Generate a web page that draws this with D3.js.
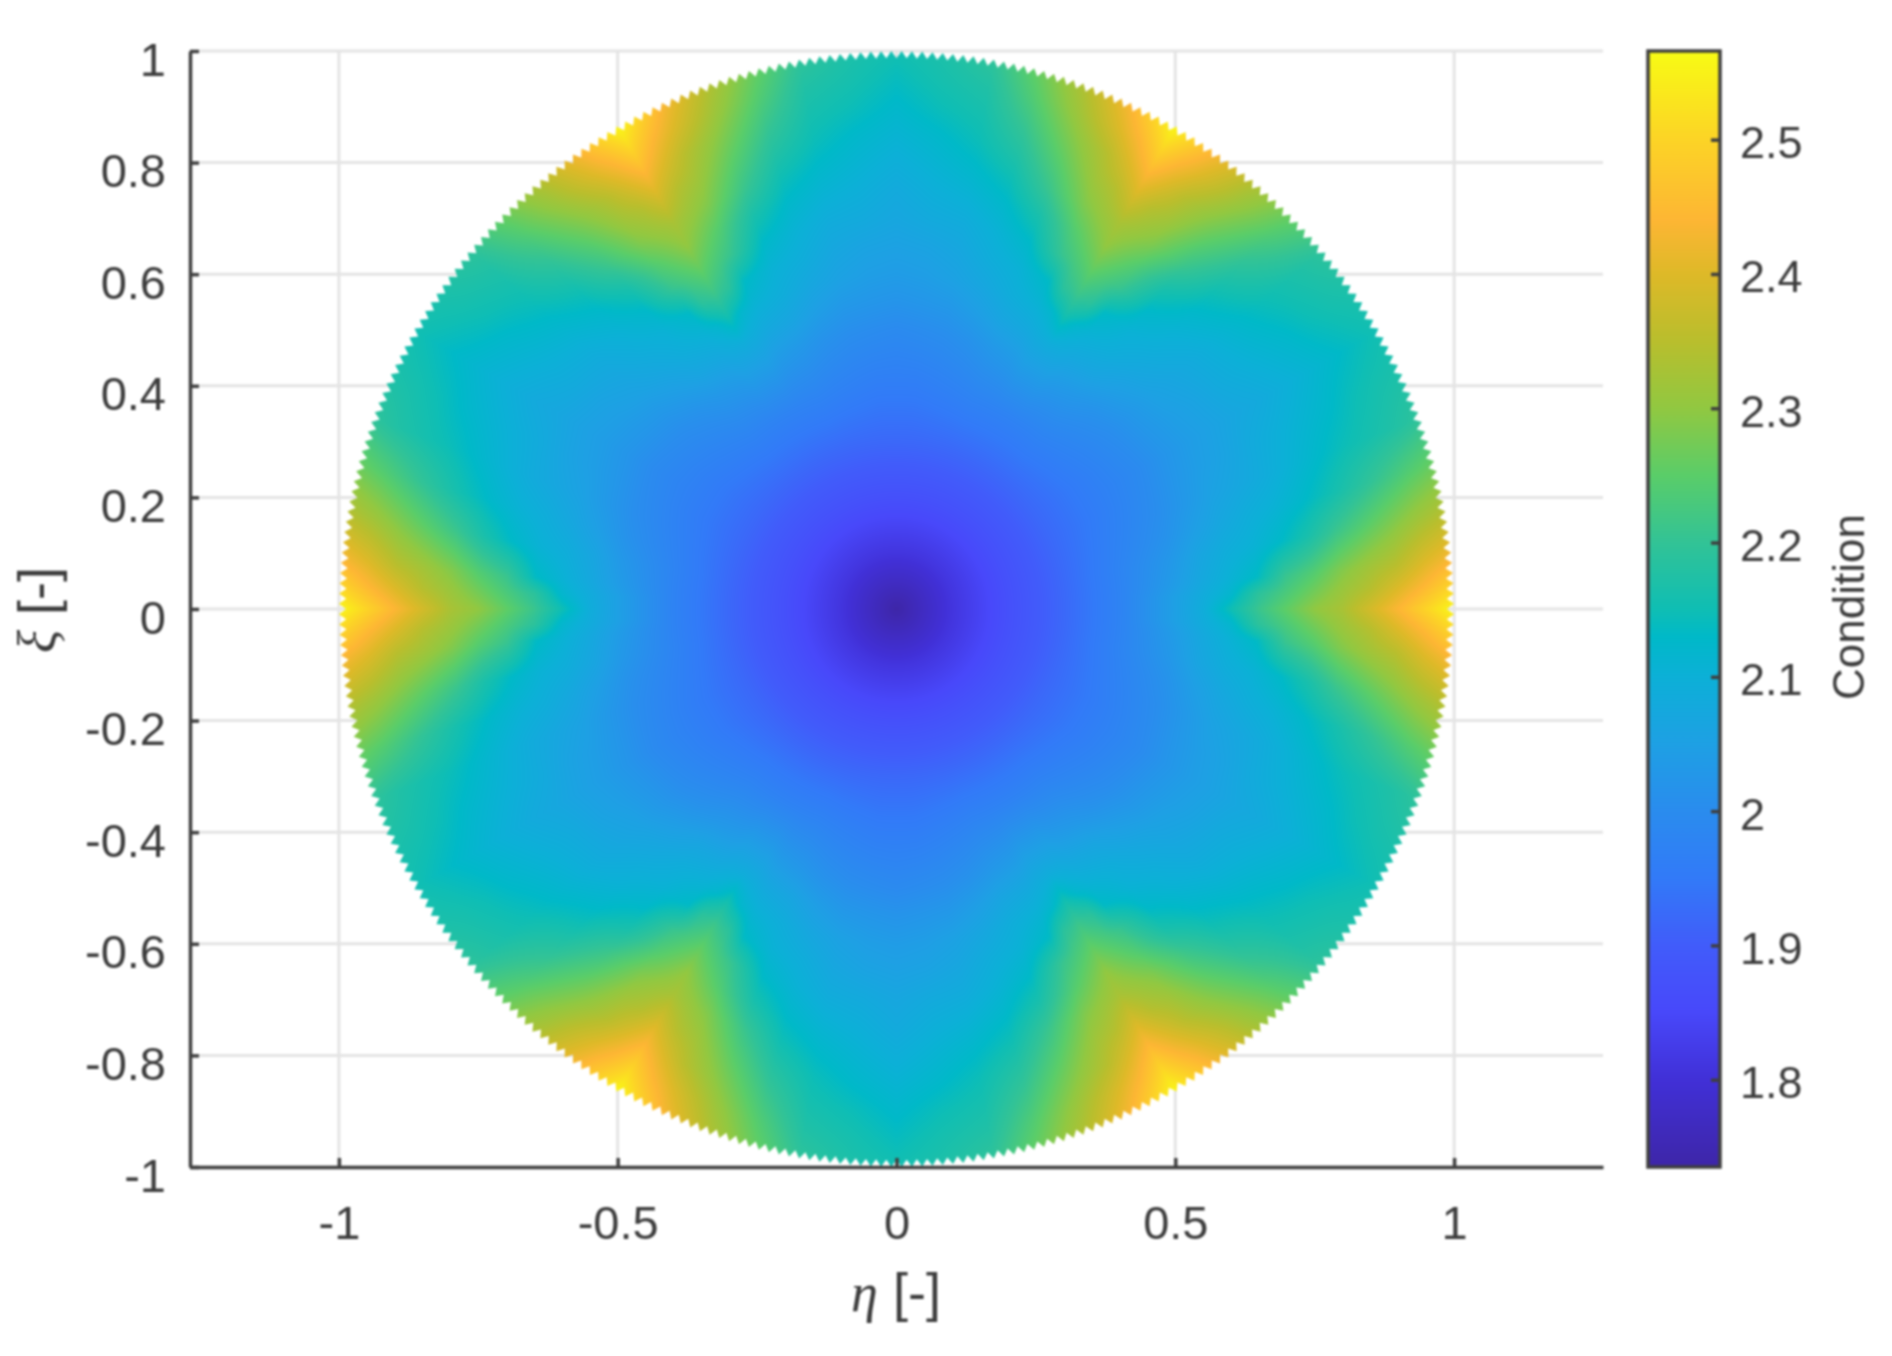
<!DOCTYPE html>
<html>
<head>
  <meta charset="utf-8">
  <script src="https://d3js.org/d3.v7.min.js"></script>
  <style>
    html, body { margin: 0; background: #fff; }
    svg { display: block; filter: blur(0.8px); }
    text { font-family: "Liberation Sans", Arial, sans-serif; fill: #3c3c3c; }
    .grid line { stroke: #e4e4e4; stroke-width: 3px; }
    .axis path, .axis line { stroke: #3f3f3f; stroke-width: 3.5px; }
    .axis text { font-size: 47px; }
    .cbar text { font-size: 45px; }
    .greek { font-family: "Liberation Serif", serif; font-style: italic; }
  </style>
</head>
<body>
  <svg id="chart" width="1892" height="1356"></svg>
  <script>
    // tick labels
    var xTicks = [-1, -0.5, 0, 0.5, 1];
    var yTicks = [-1, -0.8, -0.6, -0.4, -0.2, 0, 0.2, 0.4, 0.6, 0.8, 1];
    var cTicks = [1.8, 1.9, 2, 2.1, 2.2, 2.3, 2.4, 2.5];

    // condition number. The map repeats every 60 deg and
    // mirrors, so one 30 deg wedge is enough: angle from a hot corner, then radius
    var radii = [0, 0.1, 0.2, 0.3, 0.4, 0.5, 0.55, 0.6, 0.65, 0.7, 0.75, 0.8, 0.85, 0.9, 0.95, 1];
    var wedgeAngles = [0, 2.5, 5, 10, 15, 20, 25, 30];
    var cond00 = [1.735, 1.81, 1.87, 1.92, 1.975, 2.05, 2.09, 2.15, 2.21, 2.255, 2.30, 2.33, 2.385, 2.44, 2.50, 2.56];
    var cond02 = [1.735, 1.81, 1.87, 1.92, 1.975, 2.05, 2.085, 2.12, 2.19, 2.23, 2.27, 2.31, 2.345, 2.395, 2.445, 2.50];
    var cond05 = [1.735, 1.81, 1.87, 1.92, 1.975, 2.04, 2.075, 2.105, 2.135, 2.205, 2.24, 2.285, 2.32, 2.35, 2.40, 2.44];
    var cond10 = [1.735, 1.81, 1.87, 1.92, 1.975, 2.03, 2.065, 2.09, 2.105, 2.13, 2.165, 2.21, 2.245, 2.28, 2.315, 2.345];
    var cond15 = [1.735, 1.81, 1.87, 1.92, 1.97, 2.015, 2.045, 2.07, 2.09, 2.105, 2.125, 2.15, 2.18, 2.21, 2.24, 2.265];
    var cond20 = [1.735, 1.81, 1.87, 1.92, 1.965, 2.005, 2.03, 2.055, 2.07, 2.085, 2.105, 2.125, 2.145, 2.16, 2.175, 2.195];
    var cond25 = [1.735, 1.81, 1.87, 1.92, 1.96, 2.00, 2.025, 2.045, 2.06, 2.08, 2.095, 2.11, 2.125, 2.145, 2.16, 2.17];
    var cond30 = [1.735, 1.81, 1.87, 1.92, 1.96, 1.995, 2.02, 2.04, 2.055, 2.07, 2.08, 2.095, 2.11, 2.125, 2.14, 2.155];
    var condRows = [cond00, cond02, cond05, cond10, cond15, cond20, cond25, cond30];

    // colour bar as seen in the picture
    var cStops = [1.735, 1.8, 1.85, 1.9, 1.95, 2, 2.05, 2.1, 2.13, 2.15, 2.2, 2.25, 2.3, 2.35, 2.4, 2.44, 2.5, 2.566];
    var cColors = ["#3e26a8", "#4130d7", "#4848fa", "#415cfa", "#327af8", "#2a8cee", "#1ea0e4", "#0cb0d7", "#00b9c8",
      "#0fbeb4", "#32c396", "#5acd69", "#91c841", "#b9be2d", "#deb928", "#fdb634", "#fcd426", "#f8fb14"];

    var teeth = 340, toothDepth = 0.013;

    var svg = d3.select("#chart");
    var left = 190, right = 1603, top_ = 51, bottom = 1167;
    var cLeft = 1648, cRight = 1720;

    var x = d3.scaleLinear().domain([-1.267, 1.267]).range([left, right]);
    var y = d3.scaleLinear().domain([-1, 1]).range([bottom, top_]);
    var c = d3.scaleLinear().domain([1.735, 2.566]).range([bottom, top_]);
    var color = d3.scaleLinear().domain(cStops).range(cColors).clamp(true);

    // grid
    var grid = svg.append("g").attr("class", "grid");
    grid.selectAll(".v").data(xTicks).join("line").attr("class", "v")
      .attr("x1", d => x(d)).attr("x2", d => x(d)).attr("y1", top_).attr("y2", bottom);
    grid.selectAll(".h").data(yTicks).join("line").attr("class", "h")
      .attr("x1", left).attr("x2", right).attr("y1", d => y(d)).attr("y2", d => y(d));

    // value at a polar position, folded into the wedge and shaded between table nodes
    function lookup(r, deg) {
      var a = ((deg % 60) + 60) % 60;
      if (a > 30) a = 60 - a;
      var i = Math.min(d3.bisectRight(wedgeAngles, a) - 1, wedgeAngles.length - 2);
      var j = Math.min(d3.bisectRight(radii, r) - 1, radii.length - 2);
      var u = (a - wedgeAngles[i]) / (wedgeAngles[i + 1] - wedgeAngles[i]);
      var v = (r - radii[j]) / (radii[j + 1] - radii[j]);
      var p = condRows[i][j] * (1 - v) + condRows[i][j + 1] * v;
      var q = condRows[i + 1][j] * (1 - v) + condRows[i + 1][j + 1] * v;
      return p * (1 - u) + q * u;
    }

    // shaded disk
    var x0 = Math.floor(x(-1)), x1 = Math.ceil(x(1)), y0 = Math.floor(y(1)), y1 = Math.ceil(y(-1));
    var canvas = document.createElement("canvas");
    canvas.width = x1 - x0;
    canvas.height = y1 - y0;
    var ctx = canvas.getContext("2d");
    var img = ctx.createImageData(canvas.width, canvas.height);
    for (var py = 0; py < canvas.height; py++) {
      for (var px = 0; px < canvas.width; px++) {
        var ex = x.invert(x0 + px + 0.5), ey = y.invert(y0 + py + 0.5);
        var r = Math.hypot(ex, ey);
        if (r > 1.01) continue;
        var col = d3.rgb(color(lookup(Math.min(r, 1), Math.atan2(ey, ex) * 180 / Math.PI)));
        var k = 4 * (py * canvas.width + px);
        img.data[k] = col.r; img.data[k + 1] = col.g; img.data[k + 2] = col.b; img.data[k + 3] = 255;
      }
    }
    ctx.putImageData(img, 0, 0);

    // toothed rim of the mesh
    var rim = d3.range(2 * teeth).map(i => {
      var t = i * Math.PI / teeth, rr = i % 2 ? 1 : 1 - toothDepth;
      return [x(rr * Math.cos(t)), y(rr * Math.sin(t))];
    });
    svg.append("clipPath").attr("id", "rim").append("path").attr("d", d3.line()(rim) + "Z");
    svg.append("image")
      .attr("x", x0).attr("y", y0).attr("width", canvas.width).attr("height", canvas.height)
      .attr("clip-path", "url(#rim)")
      .attr("href", canvas.toDataURL());

    // axes
    var xAxis = svg.append("g").attr("class", "axis").attr("transform", "translate(0," + bottom + ")")
      .call(d3.axisBottom(x).tickValues(xTicks).tickSizeInner(-9).tickSizeOuter(0).tickFormat(d => String(d)));
    xAxis.selectAll("text").attr("y", 72).attr("dy", 0);

    var yAxis = svg.append("g").attr("class", "axis").attr("transform", "translate(" + left + ",0)")
      .call(d3.axisLeft(y).tickValues(yTicks).tickSizeInner(-9).tickSizeOuter(0).tickFormat(d => String(d)));
    yAxis.selectAll("text").attr("x", -24).attr("y", 24).attr("dy", 0);

    var xLabel = svg.append("text").attr("x", 896).attr("y", 1311).attr("text-anchor", "middle").style("font-size", "54px");
    xLabel.append("tspan").attr("class", "greek").text("η");
    xLabel.append("tspan").text(" [-]");

    var yLabel = svg.append("text").attr("transform", "translate(56,610) rotate(-90)").attr("text-anchor", "middle").style("font-size", "54px");
    yLabel.append("tspan").attr("class", "greek").text("ξ");
    yLabel.append("tspan").text(" [-]");

    // colour bar
    var grad = svg.append("defs").append("linearGradient").attr("id", "cmap")
      .attr("x1", 0).attr("x2", 0).attr("y1", 1).attr("y2", 0);
    grad.selectAll("stop").data(cStops).join("stop")
      .attr("offset", d => (d - 1.735) / (2.566 - 1.735))
      .attr("stop-color", d => color(d));
    svg.append("rect").attr("x", cLeft).attr("y", top_).attr("width", cRight - cLeft).attr("height", bottom - top_)
      .attr("fill", "url(#cmap)").attr("stroke", "#3f3f3f").attr("stroke-width", 3.5);

    var cAxis = svg.append("g").attr("class", "axis cbar").attr("transform", "translate(" + cRight + ",0)")
      .call(d3.axisRight(c).tickValues(cTicks).tickSizeInner(-9).tickSizeOuter(0).tickFormat(d => String(d)));
    cAxis.select(".domain").remove();
    cAxis.selectAll("text").attr("x", 20).attr("y", 18).attr("dy", 0);

    svg.append("text").attr("transform", "translate(1864,607) rotate(-90)").attr("text-anchor", "middle")
      .style("font-size", "44px").text("Condition");
  </script>
</body>
</html>
